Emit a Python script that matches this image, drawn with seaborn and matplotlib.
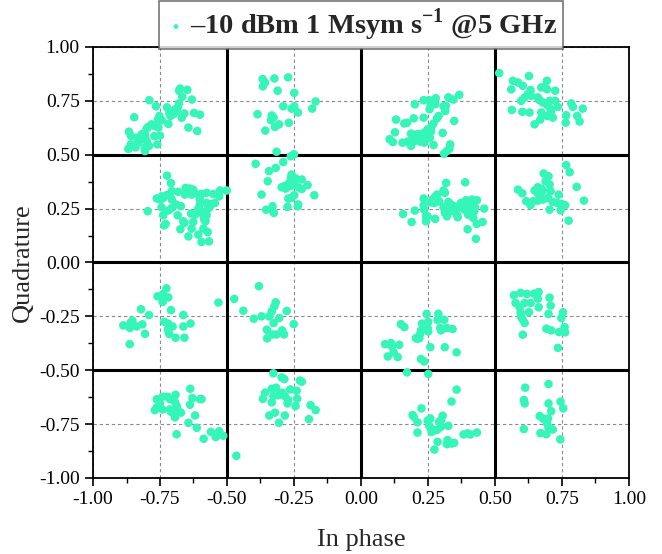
import matplotlib
matplotlib.use("Agg")
import matplotlib.pyplot as plt
import seaborn as sns
import pandas as pd
from matplotlib.ticker import MultipleLocator

# constellation points, one list of [in-phase, quadrature] per cell
# top row (quadrature ~ +0.75)
row1_c1 = [[-0.675, 0.807], [-0.679, 0.797], [-0.648, 0.801], [-0.667, 0.769], [-0.631, 0.756],
           [-0.790, 0.753], [-0.765, 0.725], [-0.724, 0.720], [-0.679, 0.738], [-0.684, 0.719],
           [-0.694, 0.710], [-0.706, 0.700], [-0.715, 0.693], [-0.700, 0.688], [-0.711, 0.680],
           [-0.659, 0.691], [-0.623, 0.694], [-0.601, 0.686], [-0.752, 0.680], [-0.757, 0.665],
           [-0.744, 0.660], [-0.781, 0.641], [-0.771, 0.634], [-0.794, 0.629], [-0.800, 0.621],
           [-0.756, 0.626], [-0.719, 0.643], [-0.846, 0.674], [-0.644, 0.626], [-0.611, 0.610],
           [-0.866, 0.607], [-0.858, 0.587], [-0.837, 0.579], [-0.818, 0.595], [-0.806, 0.592],
           [-0.812, 0.572], [-0.800, 0.564], [-0.771, 0.586], [-0.750, 0.589], [-0.760, 0.548],
           [-0.791, 0.541], [-0.831, 0.556], [-0.859, 0.548], [-0.868, 0.527], [-0.841, 0.534],
           [-0.806, 0.533], [-0.806, 0.517], [-0.669, 0.672], [-0.688, 0.703]]
row1_c2 = [[-0.367, 0.851], [-0.358, 0.835], [-0.366, 0.817], [-0.323, 0.854], [-0.272, 0.859],
           [-0.311, 0.797], [-0.249, 0.787], [-0.169, 0.747], [-0.182, 0.714], [-0.290, 0.725],
           [-0.259, 0.714], [-0.249, 0.725], [-0.235, 0.696], [-0.386, 0.688], [-0.333, 0.682],
           [-0.326, 0.672], [-0.336, 0.660], [-0.306, 0.641], [-0.321, 0.629], [-0.269, 0.648],
           [-0.357, 0.612], [-0.315, 0.514], [-0.250, 0.502], [-0.262, 0.493]]
row1_c3 = [[0.367, 0.778], [0.326, 0.766], [0.345, 0.756], [0.279, 0.762], [0.254, 0.753],
           [0.234, 0.753], [0.201, 0.734], [0.261, 0.731], [0.277, 0.734], [0.308, 0.725],
           [0.317, 0.727], [0.256, 0.711], [0.315, 0.703], [0.290, 0.680], [0.284, 0.669],
           [0.234, 0.672], [0.197, 0.669], [0.131, 0.663], [0.162, 0.645], [0.172, 0.648],
           [0.271, 0.645], [0.348, 0.657], [0.264, 0.632], [0.249, 0.618], [0.261, 0.607],
           [0.236, 0.603], [0.221, 0.595], [0.209, 0.595], [0.187, 0.598], [0.193, 0.579],
           [0.127, 0.604], [0.305, 0.601], [0.257, 0.579], [0.243, 0.572], [0.236, 0.556],
           [0.221, 0.561], [0.199, 0.564], [0.174, 0.561], [0.155, 0.556], [0.107, 0.572],
           [0.119, 0.559], [0.187, 0.541], [0.271, 0.545], [0.333, 0.548], [0.330, 0.528],
           [0.321, 0.517], [0.310, 0.505]]
row1_c4 = [[0.516, 0.879], [0.567, 0.843], [0.586, 0.835], [0.627, 0.865], [0.694, 0.843],
           [0.604, 0.820], [0.561, 0.803], [0.633, 0.800], [0.673, 0.812], [0.685, 0.815],
           [0.694, 0.804], [0.725, 0.797], [0.623, 0.781], [0.611, 0.766], [0.598, 0.750],
           [0.660, 0.766], [0.667, 0.753], [0.679, 0.742], [0.704, 0.750], [0.725, 0.750],
           [0.698, 0.727], [0.735, 0.722], [0.785, 0.738], [0.791, 0.722], [0.828, 0.714],
           [0.563, 0.708], [0.602, 0.699], [0.629, 0.696], [0.673, 0.696], [0.708, 0.696],
           [0.695, 0.680], [0.716, 0.672], [0.766, 0.683], [0.807, 0.680], [0.816, 0.654],
           [0.764, 0.649], [0.669, 0.663], [0.648, 0.641], [0.710, 0.711], [0.636, 0.773]]

# second row (quadrature ~ +0.25)
row2_c1 = [[-0.724, 0.403], [-0.709, 0.368], [-0.654, 0.346], [-0.638, 0.343], [-0.626, 0.338],
           [-0.682, 0.328], [-0.706, 0.331], [-0.713, 0.315], [-0.725, 0.312], [-0.744, 0.307],
           [-0.762, 0.297], [-0.750, 0.292], [-0.738, 0.300], [-0.706, 0.292], [-0.657, 0.315],
           [-0.632, 0.315], [-0.607, 0.315], [-0.595, 0.318], [-0.576, 0.323], [-0.551, 0.318],
           [-0.526, 0.334], [-0.529, 0.307], [-0.501, 0.334], [-0.601, 0.292], [-0.601, 0.269],
           [-0.576, 0.276], [-0.557, 0.272], [-0.545, 0.276], [-0.563, 0.261], [-0.570, 0.250],
           [-0.607, 0.250], [-0.706, 0.253], [-0.690, 0.269], [-0.672, 0.261], [-0.719, 0.241],
           [-0.744, 0.256], [-0.796, 0.238], [-0.738, 0.219], [-0.684, 0.219], [-0.634, 0.227],
           [-0.597, 0.238], [-0.588, 0.219], [-0.576, 0.219], [-0.585, 0.199], [-0.580, 0.191],
           [-0.626, 0.188], [-0.663, 0.191], [-0.659, 0.183], [-0.729, 0.179], [-0.734, 0.172],
           [-0.632, 0.157], [-0.588, 0.157], [-0.572, 0.141], [-0.674, 0.154], [-0.644, 0.121],
           [-0.607, 0.129], [-0.595, 0.095], [-0.567, 0.098], [-0.619, 0.222]]
row2_c2 = [[-0.393, 0.458], [-0.318, 0.439], [-0.290, 0.466], [-0.343, 0.424], [-0.259, 0.408],
           [-0.261, 0.393], [-0.244, 0.390], [-0.221, 0.385], [-0.199, 0.359], [-0.348, 0.377],
           [-0.271, 0.365], [-0.286, 0.354], [-0.296, 0.349], [-0.281, 0.343], [-0.265, 0.354],
           [-0.246, 0.359], [-0.234, 0.349], [-0.221, 0.341], [-0.174, 0.312], [-0.371, 0.315],
           [-0.249, 0.312], [-0.271, 0.297], [-0.259, 0.300], [-0.234, 0.269], [-0.236, 0.261],
           [-0.274, 0.258], [-0.330, 0.261], [-0.333, 0.245], [-0.325, 0.230], [-0.354, 0.245]]
row2_c3 = [[0.318, 0.369], [0.389, 0.372], [0.308, 0.334], [0.313, 0.323], [0.284, 0.315],
           [0.276, 0.304], [0.267, 0.292], [0.292, 0.284], [0.274, 0.276], [0.261, 0.279],
           [0.234, 0.297], [0.234, 0.266], [0.236, 0.245], [0.201, 0.241], [0.157, 0.225],
           [0.189, 0.188], [0.243, 0.214], [0.249, 0.214], [0.243, 0.191], [0.277, 0.202],
           [0.326, 0.281], [0.336, 0.269], [0.348, 0.261], [0.361, 0.253], [0.373, 0.276],
           [0.392, 0.289], [0.414, 0.292], [0.433, 0.289], [0.410, 0.269], [0.398, 0.264],
           [0.425, 0.256], [0.417, 0.245], [0.410, 0.230], [0.400, 0.222], [0.419, 0.207],
           [0.460, 0.250], [0.454, 0.188], [0.432, 0.179], [0.398, 0.154], [0.429, 0.110],
           [0.308, 0.256], [0.321, 0.241], [0.313, 0.230], [0.321, 0.214], [0.342, 0.238],
           [0.358, 0.222], [0.361, 0.210], [0.348, 0.250], [0.336, 0.253], [0.386, 0.245],
           [0.423, 0.238]]
row2_c4 = [[0.766, 0.452], [0.779, 0.419], [0.682, 0.413], [0.700, 0.400], [0.689, 0.377],
           [0.704, 0.362], [0.805, 0.351], [0.660, 0.349], [0.673, 0.343], [0.679, 0.334],
           [0.586, 0.338], [0.602, 0.321], [0.648, 0.334], [0.660, 0.323], [0.670, 0.315],
           [0.708, 0.331], [0.738, 0.315], [0.698, 0.300], [0.679, 0.292], [0.660, 0.287],
           [0.642, 0.284], [0.617, 0.284], [0.633, 0.266], [0.716, 0.281], [0.733, 0.276],
           [0.748, 0.272], [0.762, 0.266], [0.704, 0.245], [0.745, 0.242], [0.832, 0.287],
           [0.775, 0.194]]

# third row (quadrature ~ -0.25)
row3_c1 = [[-0.726, -0.120], [-0.738, -0.146], [-0.719, -0.162], [-0.759, -0.157], [-0.740, -0.183],
           [-0.821, -0.217], [-0.791, -0.244], [-0.709, -0.221], [-0.663, -0.244], [-0.853, -0.270],
           [-0.859, -0.278], [-0.887, -0.292], [-0.862, -0.304], [-0.837, -0.297], [-0.816, -0.287],
           [-0.806, -0.331], [-0.734, -0.275], [-0.719, -0.284], [-0.703, -0.297], [-0.721, -0.312],
           [-0.716, -0.331], [-0.692, -0.349], [-0.659, -0.349], [-0.663, -0.297], [-0.636, -0.283],
           [-0.863, -0.379], [-0.532, -0.186]]
row3_c2 = [[-0.473, -0.169], [-0.381, -0.110], [-0.439, -0.224], [-0.400, -0.261], [-0.371, -0.250],
           [-0.343, -0.250], [-0.333, -0.227], [-0.323, -0.203], [-0.318, -0.185], [-0.277, -0.225],
           [-0.305, -0.258], [-0.251, -0.286], [-0.326, -0.281], [-0.351, -0.312], [-0.350, -0.352],
           [-0.330, -0.334], [-0.315, -0.334], [-0.294, -0.315], [-0.287, -0.334]]
row3_c3 = [[0.245, -0.239], [0.289, -0.238], [0.286, -0.266], [0.311, -0.266], [0.228, -0.284],
           [0.251, -0.276], [0.149, -0.286], [0.162, -0.300], [0.224, -0.315], [0.249, -0.304],
           [0.251, -0.320], [0.221, -0.331], [0.218, -0.351], [0.205, -0.351], [0.211, -0.354],
           [0.296, -0.304], [0.299, -0.315], [0.321, -0.304], [0.342, -0.309], [0.090, -0.379],
           [0.112, -0.374], [0.116, -0.390], [0.143, -0.382], [0.122, -0.417], [0.100, -0.436],
           [0.137, -0.439], [0.259, -0.393], [0.313, -0.393], [0.357, -0.417], [0.224, -0.448],
           [0.236, -0.459]]
row3_c4 = [[0.571, -0.152], [0.596, -0.141], [0.619, -0.146], [0.646, -0.145], [0.663, -0.137],
           [0.660, -0.168], [0.704, -0.163], [0.577, -0.188], [0.611, -0.188], [0.633, -0.188],
           [0.592, -0.208], [0.663, -0.208], [0.708, -0.200], [0.596, -0.231], [0.627, -0.231],
           [0.700, -0.239], [0.754, -0.231], [0.748, -0.258], [0.598, -0.253], [0.604, -0.266],
           [0.611, -0.281], [0.692, -0.307], [0.710, -0.315], [0.760, -0.300], [0.762, -0.324],
           [0.739, -0.323], [0.604, -0.335], [0.735, -0.396]]

# bottom row (quadrature ~ -0.75)
row4_c1 = [[-0.637, -0.586], [-0.692, -0.614], [-0.629, -0.629], [-0.601, -0.634], [-0.595, -0.634],
           [-0.762, -0.635], [-0.740, -0.623], [-0.721, -0.623], [-0.713, -0.634], [-0.750, -0.654],
           [-0.741, -0.682], [-0.762, -0.673], [-0.769, -0.685], [-0.694, -0.648], [-0.687, -0.666],
           [-0.638, -0.660], [-0.713, -0.682], [-0.709, -0.693], [-0.684, -0.685], [-0.672, -0.697],
           [-0.694, -0.719], [-0.619, -0.710], [-0.644, -0.744], [-0.613, -0.767], [-0.688, -0.797],
           [-0.587, -0.818], [-0.560, -0.786], [-0.529, -0.783], [-0.542, -0.810], [-0.514, -0.804]]
row4_c2 = [[-0.327, -0.514], [-0.296, -0.533], [-0.286, -0.541], [-0.228, -0.548], [-0.221, -0.553],
           [-0.358, -0.604], [-0.333, -0.586], [-0.317, -0.581], [-0.240, -0.595], [-0.264, -0.589],
           [-0.327, -0.620], [-0.308, -0.616], [-0.294, -0.604], [-0.284, -0.620], [-0.271, -0.638],
           [-0.274, -0.654], [-0.238, -0.632], [-0.366, -0.633], [-0.333, -0.649], [-0.244, -0.666],
           [-0.188, -0.662], [-0.169, -0.685], [-0.321, -0.697], [-0.284, -0.710], [-0.342, -0.710],
           [-0.306, -0.744], [-0.194, -0.727], [-0.465, -0.897]]
row4_c3 = [[0.172, -0.510], [0.251, -0.517], [0.357, -0.590], [0.338, -0.645], [0.226, -0.677],
           [0.193, -0.708], [0.197, -0.716], [0.305, -0.711], [0.299, -0.731], [0.292, -0.739],
           [0.259, -0.724], [0.249, -0.734], [0.211, -0.742], [0.255, -0.758], [0.261, -0.770],
           [0.264, -0.786], [0.276, -0.778], [0.286, -0.775], [0.299, -0.762], [0.326, -0.758],
           [0.211, -0.789], [0.286, -0.832], [0.274, -0.868], [0.323, -0.824], [0.321, -0.843],
           [0.338, -0.840], [0.348, -0.837], [0.383, -0.798], [0.398, -0.793], [0.408, -0.798],
           [0.433, -0.789]]
row4_c4 = [[0.700, -0.564], [0.613, -0.581], [0.608, -0.638], [0.611, -0.654], [0.700, -0.654],
           [0.745, -0.646], [0.755, -0.677], [0.710, -0.690], [0.667, -0.713], [0.679, -0.724],
           [0.689, -0.731], [0.698, -0.724], [0.695, -0.747], [0.700, -0.766], [0.716, -0.775],
           [0.608, -0.773], [0.670, -0.792], [0.692, -0.797], [0.744, -0.821]]

clusters = [row1_c1, row1_c2, row1_c3, row1_c4,
            row2_c1, row2_c2, row2_c3, row2_c4,
            row3_c1, row3_c2, row3_c3, row3_c4,
            row4_c1, row4_c2, row4_c3, row4_c4]

series_label = r"–10 dBm 1 Msym s$^{\mathbf{-1}}$ @5 GHz"
boundaries = [-0.5, 0.0, 0.5]
tick_values = [-1.0, -0.75, -0.5, -0.25, 0.0, 0.25, 0.5, 0.75, 1.0]

points = pd.DataFrame([p for c in clusters for p in c], columns=["I", "Q"])

sns.set_theme(style="ticks")
plt.rcParams["font.family"] = ["Liberation Serif", "DejaVu Serif"]
plt.rcParams["mathtext.fontset"] = "custom"
plt.rcParams["mathtext.rm"] = "Liberation Serif"
plt.rcParams["mathtext.bf"] = "Liberation Serif:bold"

fig = plt.figure(figsize=(6.62, 5.54), dpi=100)
ax = fig.add_axes([0.1405, 0.1372, 0.8095, 0.778])

# dashed grid first, then the thick decision lines, points on top
ax.set_axisbelow(True)
ax.grid(True, which="major", color="#8a8a8a", linestyle=(0, (3, 2.5)), linewidth=0.8)
for b in boundaries:
    ax.axhline(b, color="black", linewidth=2.2, zorder=1.5)
    ax.axvline(b, color="black", linewidth=2.2, zorder=1.5)

sns.scatterplot(data=points, x="I", y="Q", ax=ax, color="#36F5B8", s=38,
                edgecolor="none", linewidth=0, label=series_label, zorder=3)

ax.set_xlim(-1, 1)
ax.set_ylim(-1, 1)
ax.set_xticks(tick_values)
ax.set_yticks(tick_values)
ax.xaxis.set_minor_locator(MultipleLocator(0.125))
ax.yaxis.set_minor_locator(MultipleLocator(0.125))
ax.set_xticklabels([f"{v:.2f}" for v in tick_values])
ax.set_yticklabels([f"{v:.2f}" for v in tick_values])
ax.tick_params(which="major", direction="out", length=6, width=1.2, labelsize=14, colors="black")
ax.tick_params(which="minor", direction="out", length=3.5, width=1.0, colors="black")
for sp in ax.spines.values():
    sp.set_color("black")
    sp.set_linewidth(1.3)

ax.set_xlabel("In phase", fontsize=19, labelpad=15)
ax.set_ylabel("Quadrature", fontsize=19, labelpad=4)

leg = ax.legend(loc="lower center", bbox_to_anchor=(0.5, 0.995), borderaxespad=0,
                fancybox=False, frameon=True, markerscale=0.55, handletextpad=0.1,
                handlelength=0.8, borderpad=0.2, prop={"weight": "bold", "size": 20.5})
leg.get_frame().set_edgecolor("#555555")
leg.get_frame().set_linewidth(1.2)

fig.savefig("out.png", dpi=100)
